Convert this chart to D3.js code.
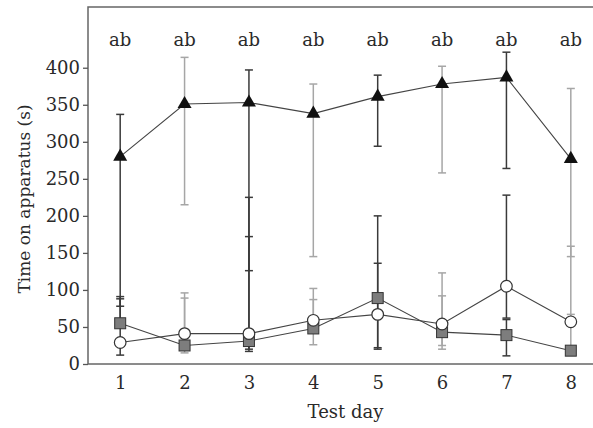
<!DOCTYPE html>
<html>
<head>
<meta charset="utf-8">
<script src="https://cdn.jsdelivr.net/npm/d3@7"></script>
<style>
  body { margin: 0; background: #fff; }
  text { font-family: "DejaVu Serif", "Liberation Serif", serif; fill: #2a2a2a; }
</style>
</head>
<body>
<svg width="593" height="428"></svg>
<script>
// test days and the letters printed above each one
var days = [1, 2, 3, 4, 5, 6, 7, 8];
var dayLetters = ["ab", "ab", "ab", "ab", "ab", "ab", "ab", "ab"];
var yTicks = [0, 50, 100, 150, 200, 250, 300, 350, 400];

// triangle series
var triMean = [280, 351, 353, 338, 361, 378, 387, 277];
var triLo   = [78, 215, 126, 145, 294, 258, 264, 145];
var triHi   = [337, 414, 397, 378, 390, 402, 421, 372];

// open circle series
var circMean = [29, 41, 41, 59, 67, 54, 105, 57];
var circLo   = [12, 30, 17, 52, 22, 25, 62, 52];
var circHi   = [91, 96, 225, 102, 136, 123, 228, 159];

// grey square series
var sqMean = [55, 25, 31, 48, 89, 43, 39, 18];
var sqLo   = [50, 15, 20, 26, 20, 20, 11, 15];
var sqHi   = [88, 89, 172, 87, 200, 92, 60, 67];

var svg = d3.select("svg"),
    margin = {top: 7, right: -10, bottom: 64, left: 88},
    width = +svg.attr("width") - margin.left - margin.right,
    height = +svg.attr("height") - margin.top - margin.bottom;

var x = d3.scaleLinear().domain([0.5, 8.5]).range([0, width]);
var y = d3.scaleLinear().domain([0, 482]).range([height, 0]);

var g = svg.append("g")
    .attr("transform", "translate(" + margin.left + "," + margin.top + ")");

// frame
g.append("rect")
    .attr("x", 0).attr("y", 0)
    .attr("width", width).attr("height", height)
    .attr("fill", "none")
    .attr("stroke", "#666")
    .attr("stroke-width", 1.5);

var xAxis = g.append("g")
    .attr("transform", "translate(0," + height + ")")
    .call(d3.axisBottom(x).tickValues(days).tickSize(0).tickPadding(12).tickFormat(d3.format("d")));
xAxis.select(".domain").remove();
xAxis.selectAll("text").style("font-size", "18px").attr("fill", "#2a2a2a");

var yAxis = g.append("g")
    .call(d3.axisLeft(y).tickValues(yTicks).tickSize(5).tickPadding(3));
yAxis.select(".domain").remove();
yAxis.selectAll("line").attr("stroke", "#555").attr("stroke-width", 1.3);
yAxis.selectAll("text").style("font-size", "18px").attr("fill", "#2a2a2a");

svg.append("text")
    .attr("x", margin.left + width / 2)
    .attr("y", 418)
    .attr("text-anchor", "middle")
    .style("font-size", "18px")
    .text("Test day");

svg.append("text")
    .attr("transform", "translate(30," + 199 + ") rotate(-90)")
    .attr("text-anchor", "middle")
    .style("font-size", "17px")
    .text("Time on apparatus (s)");

g.selectAll(".letter")
    .data(days)
    .enter().append("text")
    .attr("class", "letter")
    .attr("x", function (d) { return x(d); })
    .attr("y", 39)
    .attr("text-anchor", "middle")
    .style("font-size", "18px")
    .text(function (d, i) { return dayLetters[i]; });

function barColor(i) {
    return (i % 2 === 0) ? "#3a3a3a" : "#a6a6a6";
}

// error bars
function errorBars(lo, hi) {
    var eb = g.append("g");
    days.forEach(function (d, i) {
        var cx = x(d);
        eb.append("line")
            .attr("x1", cx).attr("x2", cx)
            .attr("y1", y(lo[i])).attr("y2", y(hi[i]))
            .attr("stroke", barColor(i)).attr("stroke-width", 1.5);
        [lo[i], hi[i]].forEach(function (v) {
            eb.append("line")
                .attr("x1", cx - 4).attr("x2", cx + 4)
                .attr("y1", y(v)).attr("y2", y(v))
                .attr("stroke", barColor(i)).attr("stroke-width", 1.5);
        });
    });
}
errorBars(triLo, triHi);
errorBars(circLo, circHi);
errorBars(sqLo, sqHi);

var line = d3.line()
    .x(function (d, i) { return x(days[i]); })
    .y(function (d) { return y(d); });

[triMean, circMean, sqMean].forEach(function (s) {
    g.append("path")
        .datum(s)
        .attr("d", line)
        .attr("fill", "none")
        .attr("stroke", "#444")
        .attr("stroke-width", 1.1);
});

g.selectAll(".sq")
    .data(sqMean)
    .enter().append("rect")
    .attr("class", "sq")
    .attr("x", function (d, i) { return x(days[i]) - 5.5; })
    .attr("y", function (d) { return y(d) - 5.5; })
    .attr("width", 11).attr("height", 11)
    .attr("fill", "#7d7d7d")
    .attr("stroke", "#333").attr("stroke-width", 1);

g.selectAll(".circ")
    .data(circMean)
    .enter().append("circle")
    .attr("class", "circ")
    .attr("cx", function (d, i) { return x(days[i]); })
    .attr("cy", function (d) { return y(d); })
    .attr("r", 5.8)
    .attr("fill", "#fff")
    .attr("stroke", "#333").attr("stroke-width", 1.2);

var tri = d3.symbol().type(d3.symbolTriangle).size(85);
g.selectAll(".tri")
    .data(triMean)
    .enter().append("path")
    .attr("class", "tri")
    .attr("transform", function (d, i) { return "translate(" + x(days[i]) + "," + y(d) + ")"; })
    .attr("d", tri)
    .attr("fill", "#111");
</script>
</body>
</html>
